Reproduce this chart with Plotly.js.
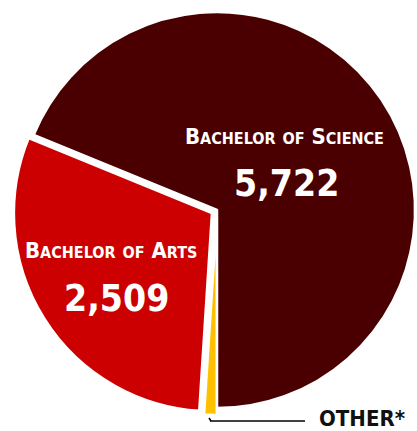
<!DOCTYPE html>
<html>
<head>
<meta charset="utf-8">
<script src="https://cdn.plot.ly/plotly-3.0.1.min.js"></script>
<style>
  html, body { margin: 0; padding: 0; background: #ffffff; overflow: hidden; width: 417px; height: 431px; }
  #chart { position: absolute; left: 0; top: 0; width: 430px; height: 431px; }
</style>
</head>
<body>
<div id="chart"></div>
<script>
// ---- data ----
var categories = ['Bachelor of Science', 'Bachelor of Arts', 'Other*'];
var values = [5722, 2509, 85];
var colors = ['#4a0000', '#cc0000', '#ffc000'];
var pulls = [0, 0.03, 0.035];

// ---- layout helpers ----
var W = 430, H = 431;
function px(x) { return x / W; }
function py(y) { return 1 - y / H; }

var FONT = '"DejaVu Sans Condensed", "DejaVu Sans", sans-serif';

function smallCaps(label, small) {
  return '<b>' + label.split(' ').map(function (w) {
    if (w.toLowerCase() === 'of') {
      return '<span style="font-size:' + small + 'px">' + w.toUpperCase() + '</span>';
    }
    return w.charAt(0).toUpperCase() +
      '<span style="font-size:' + small + 'px">' + w.slice(1).toUpperCase() + '</span>';
  }).join(' ') + '</b>';
}
function fmt(v) { return v.toLocaleString('en-US'); }

// first slice should end exactly at 6 o'clock (counterclockwise layout)
var total = values.reduce(function (s, v) { return s + v; }, 0);
var rot = 180 - 360 * values[0] / total;

var trace = {
  type: 'pie',
  labels: categories,
  values: values,
  sort: false,
  direction: 'counterclockwise',
  rotation: rot,
  pull: pulls,
  marker: { colors: colors, line: { color: '#ffffff', width: 2.5 } },
  textinfo: 'none',
  hoverinfo: 'skip',
  showlegend: false,
  domain: { x: [12 / W, 422 / W], y: [16 / H, 426 / H] }
};

var annotations = [
  { x: px(284.5), y: py(136), text: smallCaps(categories[0], 16), font: { family: FONT, size: 22, color: '#ffffff' } },
  { x: px(286), y: py(183), text: '<b>' + fmt(values[0]) + '</b>', font: { family: FONT, size: 37, color: '#ffffff' } },
  { x: px(111), y: py(250), text: smallCaps(categories[1], 16), font: { family: FONT, size: 22, color: '#ffffff' } },
  { x: px(116), y: py(298.5), text: '<b>' + fmt(values[1]) + '</b>', font: { family: FONT, size: 37, color: '#ffffff' } },
  { x: px(361.5), y: py(418.5), text: '<b>' + categories[2].toUpperCase() + '</b>', font: { family: FONT, size: 22, color: '#111111' } }
].map(function (a) {
  a.xref = 'paper'; a.yref = 'paper'; a.showarrow = false;
  a.xanchor = 'center'; a.yanchor = 'middle';
  return a;
});

var layout = {
  width: W, height: H,
  margin: { l: 0, r: 0, t: 0, b: 0 },
  paper_bgcolor: '#ffffff',
  plot_bgcolor: '#ffffff',
  showlegend: false,
  annotations: annotations,
  shapes: [
    { type: 'line', xref: 'paper', yref: 'paper', x0: px(209), y0: py(418), x1: px(211), y1: py(421), line: { color: '#000000', width: 1.5 } },
    { type: 'line', xref: 'paper', yref: 'paper', x0: px(210), y0: py(421), x1: px(305), y1: py(421), line: { color: '#000000', width: 1.5 } }
  ]
};

Plotly.newPlot('chart', [trace], layout, { displayModeBar: false, staticPlot: true });
</script>
</body>
</html>
